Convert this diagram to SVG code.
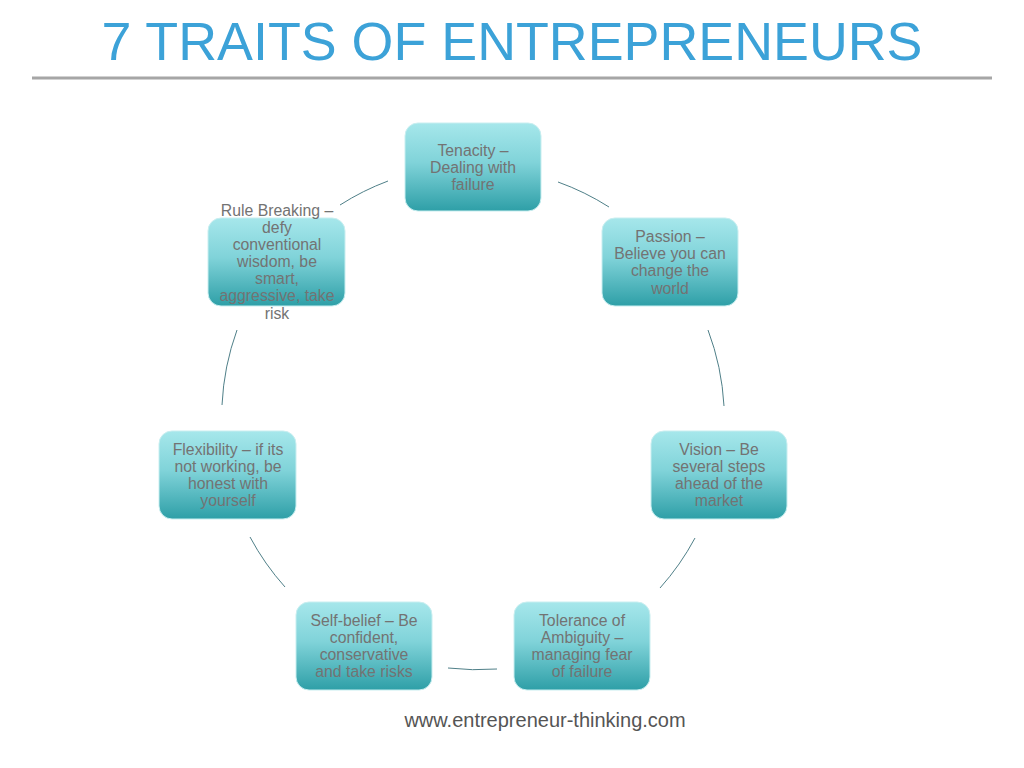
<svg xmlns="http://www.w3.org/2000/svg" width="1024" height="768" viewBox="0 0 1024 768">
<defs>
<linearGradient id="g" x1="0" y1="0" x2="0" y2="1">
<stop offset="0" stop-color="#a6e7eb"/>
<stop offset="0.45" stop-color="#80d3d9"/>
<stop offset="1" stop-color="#2e9fa7"/>
</linearGradient>
<style>
.box{fill:url(#g);stroke:#c8eef0;stroke-width:1}
.t{font-family:"Liberation Sans",Arial,sans-serif;font-size:15.8px;fill:#737373;text-anchor:middle}
.c{fill:none;stroke:#4f7f88;stroke-width:1}
</style>
</defs>
<rect width="1024" height="768" fill="#fff"/>
<text x="512" y="60" font-family="Liberation Sans,Arial,sans-serif" font-size="53.8" fill="#3ca2d8" text-anchor="middle">7 TRAITS OF ENTREPRENEURS</text>
<line x1="32" y1="78" x2="992" y2="78" stroke="#a6a6a6" stroke-width="3"/>
<g id="connectors">
<path class="c" d="M 340 205 A 255 255 0 0 1 388 181"/>
<path class="c" d="M 558 182 A 255 255 0 0 1 609 207"/>
<path class="c" d="M 708 330 A 255 255 0 0 1 724 406"/>
<path class="c" d="M 695 538 A 255 255 0 0 1 660 588"/>
<path class="c" d="M 497 669 A 255 255 0 0 1 448 668"/>
<path class="c" d="M 285 587 A 255 255 0 0 1 250 537"/>
<path class="c" d="M 222 405 A 255 255 0 0 1 237 330"/>
</g>
<g id="tenacity">
<rect class="box" x="405" y="123" width="136" height="88" rx="13"/>
<text class="t" x="473" y="156">Tenacity –</text>
<text class="t" x="473" y="173">Dealing with</text>
<text class="t" x="473" y="190">failure</text>
</g>
<g id="passion">
<rect class="box" x="602" y="218" width="136" height="88" rx="13"/>
<text class="t" x="670" y="242">Passion –</text>
<text class="t" x="670" y="259">Believe you can</text>
<text class="t" x="670" y="276">change the</text>
<text class="t" x="670" y="294">world</text>
</g>
<g id="rulebreaking">
<rect class="box" x="208" y="218" width="137" height="88" rx="13"/>
<text class="t" x="277" y="216">Rule Breaking –</text>
<text class="t" x="277" y="233">defy</text>
<text class="t" x="277" y="250">conventional</text>
<text class="t" x="277" y="267">wisdom, be</text>
<text class="t" x="277" y="284">smart,</text>
<text class="t" x="277" y="301">aggressive, take</text>
<text class="t" x="277" y="319">risk</text>
</g>
<g id="flexibility">
<rect class="box" x="159" y="431" width="137" height="88" rx="13"/>
<text class="t" x="228" y="455">Flexibility – if its</text>
<text class="t" x="228" y="472">not working, be</text>
<text class="t" x="228" y="489">honest with</text>
<text class="t" x="228" y="506">yourself</text>
</g>
<g id="vision">
<rect class="box" x="651" y="431" width="136" height="88" rx="13"/>
<text class="t" x="719" y="455">Vision – Be</text>
<text class="t" x="719" y="472">several steps</text>
<text class="t" x="719" y="489">ahead of the</text>
<text class="t" x="719" y="506">market</text>
</g>
<g id="selfbelief">
<rect class="box" x="296" y="602" width="136" height="88" rx="13"/>
<text class="t" x="364" y="626">Self-belief – Be</text>
<text class="t" x="364" y="643">confident,</text>
<text class="t" x="364" y="660">conservative</text>
<text class="t" x="364" y="677">and take risks</text>
</g>
<g id="tolerance">
<rect class="box" x="514" y="602" width="136" height="88" rx="13"/>
<text class="t" x="582" y="626">Tolerance of</text>
<text class="t" x="582" y="643">Ambiguity –</text>
<text class="t" x="582" y="660">managing fear</text>
<text class="t" x="582" y="677">of failure</text>
</g>
<text x="545" y="727" font-family="Liberation Sans,Arial,sans-serif" font-size="20" fill="#555" text-anchor="middle">www.entrepreneur-thinking.com</text>
</svg>
